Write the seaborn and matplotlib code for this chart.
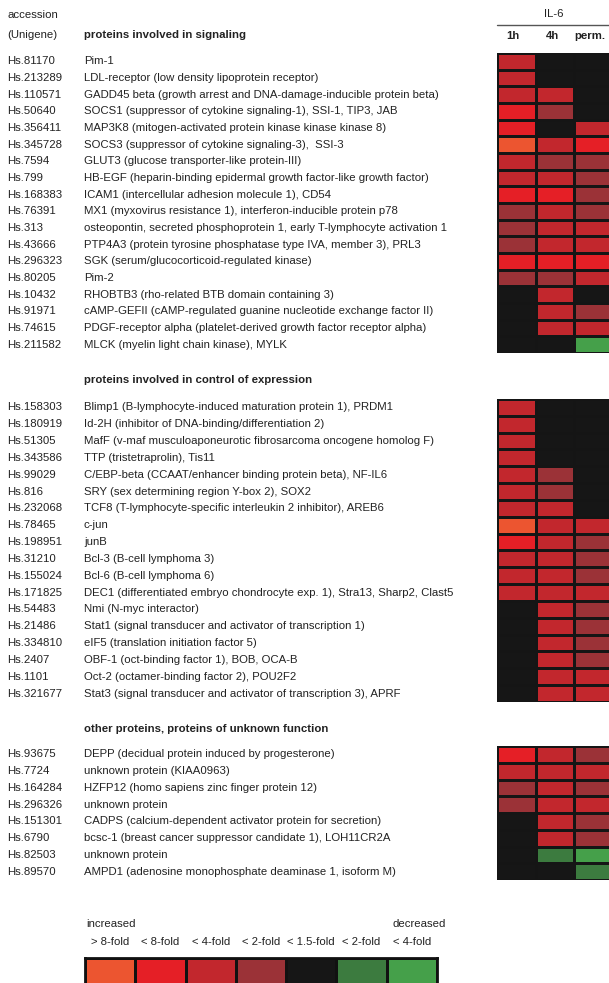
import numpy as np
import pandas as pd
import matplotlib
matplotlib.use("Agg")
import matplotlib.pyplot as plt
import seaborn as sns
from matplotlib.colors import ListedColormap, BoundaryNorm
from matplotlib.transforms import blended_transform_factory

# ---------------------------------------------------------------- data
# fold-change classes: 4 = >8-fold up, 3 = <8-fold up, 2 = <4-fold up,
# 1 = <2-fold up, 0 = <1.5-fold, -1 = <2-fold down, -2 = <4-fold down
time_points = ["1h", "4h", "perm."]

signal_title = "proteins involved in signaling"
signal_acc = ["Hs.81170", "Hs.213289", "Hs.110571", "Hs.50640", "Hs.356411",
              "Hs.345728", "Hs.7594", "Hs.799", "Hs.168383", "Hs.76391",
              "Hs.313", "Hs.43666", "Hs.296323", "Hs.80205", "Hs.10432",
              "Hs.91971", "Hs.74615", "Hs.211582"]
signal_names = [
    "Pim-1",
    "LDL-receptor (low density lipoprotein receptor)",
    "GADD45 beta (growth arrest and DNA-damage-inducible protein beta)",
    "SOCS1 (suppressor of cytokine signaling-1), SSI-1, TIP3, JAB",
    "MAP3K8 (mitogen-activated protein kinase kinase kinase 8)",
    "SOCS3 (suppressor of cytokine signaling-3),  SSI-3",
    "GLUT3 (glucose transporter-like protein-III)",
    "HB-EGF (heparin-binding epidermal growth factor-like growth factor)",
    "ICAM1 (intercellular adhesion molecule 1), CD54",
    "MX1 (myxovirus resistance 1), interferon-inducible protein p78",
    "osteopontin, secreted phosphoprotein 1, early T-lymphocyte activation 1",
    "PTP4A3 (protein tyrosine phosphatase type IVA, member 3), PRL3",
    "SGK (serum/glucocorticoid-regulated kinase)",
    "Pim-2",
    "RHOBTB3 (rho-related BTB domain containing 3)",
    "cAMP-GEFII (cAMP-regulated guanine nucleotide exchange factor II)",
    "PDGF-receptor alpha (platelet-derived growth factor receptor alpha)",
    "MLCK (myelin light chain kinase), MYLK",
]
signal_1h = [2, 2, 2, 3, 3, 4, 2, 2, 3, 1, 1, 1, 3, 1, 0, 0, 0, 0]
signal_4h = [0, 0, 2, 1, 0, 2, 1, 2, 3, 2, 2, 2, 3, 1, 2, 2, 2, 0]
signal_perm = [0, 0, 0, 0, 2, 3, 1, 1, 1, 1, 2, 2, 3, 2, 0, 1, 2, -2]

expr_title = "proteins involved in control of expression"
expr_acc = ["Hs.158303", "Hs.180919", "Hs.51305", "Hs.343586", "Hs.99029",
            "Hs.816", "Hs.232068", "Hs.78465", "Hs.198951", "Hs.31210",
            "Hs.155024", "Hs.171825", "Hs.54483", "Hs.21486", "Hs.334810",
            "Hs.2407", "Hs.1101", "Hs.321677"]
expr_names = [
    "Blimp1 (B-lymphocyte-induced maturation protein 1), PRDM1",
    "Id-2H (inhibitor of DNA-binding/differentiation 2)",
    "MafF (v-maf musculoaponeurotic fibrosarcoma oncogene homolog F)",
    "TTP (tristetraprolin), Tis11",
    "C/EBP-beta (CCAAT/enhancer binding protein beta), NF-IL6",
    "SRY (sex determining region Y-box 2), SOX2",
    "TCF8 (T-lymphocyte-specific interleukin 2 inhibitor), AREB6",
    "c-jun",
    "junB",
    "Bcl-3 (B-cell lymphoma 3)",
    "Bcl-6 (B-cell lymphoma 6)",
    "DEC1 (differentiated embryo chondrocyte exp. 1), Stra13, Sharp2, Clast5",
    "Nmi (N-myc interactor)",
    "Stat1 (signal transducer and activator of transcription 1)",
    "eIF5 (translation initiation factor 5)",
    "OBF-1 (oct-binding factor 1), BOB, OCA-B",
    "Oct-2 (octamer-binding factor 2), POU2F2",
    "Stat3 (signal transducer and activator of transcription 3), APRF",
]
expr_1h = [2, 2, 2, 2, 2, 2, 2, 4, 3, 2, 2, 2, 0, 0, 0, 0, 0, 0]
expr_4h = [0, 0, 0, 0, 1, 1, 2, 2, 2, 2, 2, 2, 2, 2, 2, 2, 2, 2]
expr_perm = [0, 0, 0, 0, 0, 0, 0, 2, 1, 1, 1, 2, 1, 1, 1, 1, 2, 2]

other_title = "other proteins, proteins of unknown function"
other_acc = ["Hs.93675", "Hs.7724", "Hs.164284", "Hs.296326", "Hs.151301",
             "Hs.6790", "Hs.82503", "Hs.89570"]
other_names = [
    "DEPP (decidual protein induced by progesterone)",
    "unknown protein (KIAA0963)",
    "HZFP12 (homo sapiens zinc finger protein 12)",
    "unknown protein",
    "CADPS (calcium-dependent activator protein for secretion)",
    "bcsc-1 (breast cancer suppressor candidate 1), LOH11CR2A",
    "unknown protein",
    "AMPD1 (adenosine monophosphate deaminase 1, isoform M)",
]
other_1h = [3, 2, 1, 1, 0, 0, 0, 0]
other_4h = [2, 2, 2, 2, 2, 2, -1, 0]
other_perm = [1, 2, 1, 2, 1, 1, -2, -1]

legend_classes = [4, 3, 2, 1, 0, -1, -2]
legend_labels = ["> 8-fold", "< 8-fold", "< 4-fold", "< 2-fold",
                 "< 1.5-fold", "< 2-fold", "< 4-fold"]

# ---------------------------------------------------------------- style
sns.set_theme(style="white")
plt.rcParams["font.family"] = ["Liberation Sans", "DejaVu Sans"]

class_colors = ["#45A04A", "#3C7B3F", "#161616", "#9B3237",
                "#C2272D", "#E51F26", "#EC5530"]
cmap = ListedColormap(class_colors)
norm = BoundaryNorm(np.arange(-2.5, 5.0, 1.0), cmap.N)

W, H = 609, 983
fig = plt.figure(figsize=(W / 100, H / 100), dpi=100)
fig.patch.set_facecolor("white")


def fx(px):
    return px / W


def fy(py):
    return 1 - py / H


TXT = "#222222"
FS = 8.2
X_ACC, X_DESC = 7, 84
X_MAP, MAP_W = 497, 116

sections = [
    (signal_title, signal_acc, signal_names,
     signal_1h, signal_4h, signal_perm, 35, 53, 353),
    (expr_title, expr_acc, expr_names,
     expr_1h, expr_4h, expr_perm, 380, 399, 702),
    (other_title, other_acc, other_names,
     other_1h, other_4h, other_perm, 729, 746, 880),
]

for title, acc, names, v1, v4, vp, y_title, top, bottom in sections:
    ax = fig.add_axes([fx(X_MAP), fy(bottom), MAP_W / W, (bottom - top) / H])
    df = pd.DataFrame({"1h": v1, "4h": v4, "perm.": vp}, index=acc)
    sns.heatmap(df, ax=ax, cmap=cmap, norm=norm, cbar=False,
                linewidths=1.0, linecolor="#151515",
                xticklabels=False, yticklabels=False)
    ax.set_xlabel("")
    ax.set_ylabel("")
    trans = blended_transform_factory(fig.transFigure, ax.transData)
    for i, (a, n) in enumerate(zip(acc, names)):
        ax.text(fx(X_ACC), i + 0.5, a, transform=trans, ha="left",
                va="center", fontsize=FS, color=TXT, clip_on=False)
        ax.text(fx(X_DESC), i + 0.5, n, transform=trans, ha="left",
                va="center", fontsize=FS, color=TXT, clip_on=False)
    fig.text(fx(X_DESC), fy(y_title), title, ha="left", va="center",
             fontsize=FS, fontweight="bold", color=TXT)

# column header
fig.text(fx(X_ACC), fy(15), "accession", ha="left", va="center",
         fontsize=FS, color=TXT)
fig.text(fx(X_ACC), fy(35), "(Unigene)", ha="left", va="center",
         fontsize=FS, color=TXT)
fig.text(fx(554), fy(14), "IL-6", ha="center", va="center",
         fontsize=FS, color=TXT)
fig.add_artist(plt.Line2D([fx(497), 1.0], [fy(25), fy(25)],
                          color="#555555", lw=1.0))
for lbl, xc in zip(time_points, [513, 552, 590]):
    fig.text(fx(xc), fy(36), lbl, ha="center", va="center",
             fontsize=FS, fontweight="bold", color=TXT)

# colour key
fig.text(fx(86), fy(924), "increased", ha="left", va="center",
         fontsize=FS, color=TXT)
fig.text(fx(446), fy(924), "decreased", ha="right", va="center",
         fontsize=FS, color=TXT)
ax_key = fig.add_axes([fx(85), fy(990), 352 / W, 32 / H])
sns.heatmap(pd.DataFrame([legend_classes]), ax=ax_key, cmap=cmap, norm=norm,
            cbar=False, linewidths=2.0, linecolor="#111111",
            xticklabels=False, yticklabels=False)
for s in ax_key.spines.values():
    s.set_visible(True)
    s.set_color("#111111")
    s.set_linewidth(2.0)
key_trans = blended_transform_factory(ax_key.transData, fig.transFigure)
for j, lbl in enumerate(legend_labels):
    ax_key.text(j + 0.5, fy(942), lbl, transform=key_trans, ha="center",
                va="center", fontsize=FS, color=TXT, clip_on=False)

fig.savefig("out.png", dpi=100, facecolor="white")
